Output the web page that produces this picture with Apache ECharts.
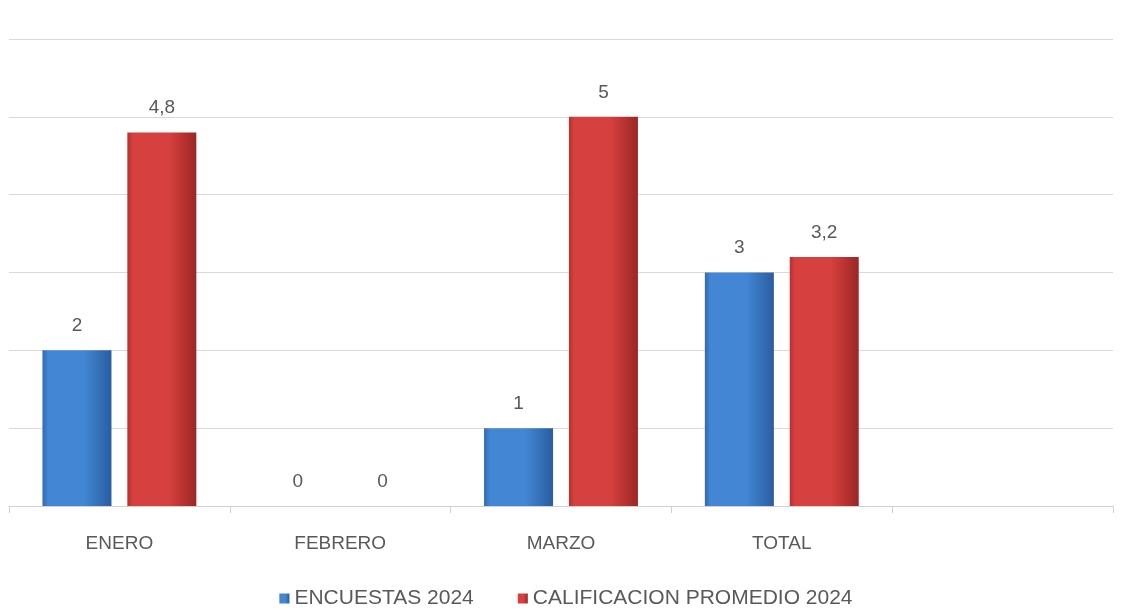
<!DOCTYPE html>
<html>
<head>
<meta charset="utf-8">
<script src="https://cdn.jsdelivr.net/npm/echarts@6/dist/echarts.min.js"></script>
<style>
html,body{margin:0;padding:0;background:#fff;}
#main{width:1132px;height:610px;}
</style>
</head>
<body>
<div id="main"></div>
<script>
const categories = ['ENERO', 'FEBRERO', 'MARZO', 'TOTAL', ''];
const encuestas = [2, 0, 1, 3, null];
const calificacion = [4.8, 0, 5, 3.2, null];
const seriesNames = ['ENCUESTAS 2024', 'CALIFICACION PROMEDIO 2024'];

const FONT = '"Liberation Sans", Arial, sans-serif';
const TXT = '#595959';

function grad(c0, c1, c2) {
  return new echarts.graphic.LinearGradient(0, 0, 1, 0, [
    {offset: 0, color: c0},
    {offset: 0.08, color: c1},
    {offset: 0.6, color: c1},
    {offset: 1, color: c2}
  ]);
}

const labelCfg = {
  show: true,
  position: 'top',
  distance: 15,
  color: TXT,
  fontFamily: FONT,
  fontSize: 19,
  formatter: p => String(p.value).replace('.', ',')
};

const chart = echarts.init(document.getElementById('main'), null, {renderer: 'canvas'});
chart.setOption({
  backgroundColor: '#ffffff',
  animation: false,
  grid: {left: 9, right: 19, top: 39, bottom: 104, containLabel: false},
  legend: {
    top: 583,
    left: 'center',
    itemWidth: 10,
    itemHeight: 10,
    itemGap: 44,
    icon: 'rect',
    textStyle: {color: TXT, fontFamily: FONT, fontSize: 21},
    data: seriesNames
  },
  xAxis: {
    type: 'category',
    data: categories,
    boundaryGap: true,
    axisLine: {show: true, lineStyle: {color: '#d0d0d0', width: 1}},
    axisTick: {show: true, length: 7, lineStyle: {color: '#d0d0d0'}},
    axisLabel: {color: TXT, fontFamily: FONT, fontSize: 19, margin: 28, interval: 0}
  },
  yAxis: {
    type: 'value',
    min: 0,
    max: 6,
    interval: 1,
    axisLabel: {show: false},
    axisLine: {show: false},
    axisTick: {show: false},
    splitLine: {lineStyle: {color: '#d9d9d9', width: 1}}
  },
  series: [
    {
      name: seriesNames[0],
      type: 'bar',
      data: encuestas,
      barWidth: 69,
      barGap: '23%',
      itemStyle: {
        color: grad('#3068b2', '#4286d4', '#2a5da0')
      },
      label: labelCfg
    },
    {
      name: seriesNames[1],
      type: 'bar',
      data: calificacion,
      barWidth: 69,
      barGap: '23%',
      itemStyle: {
        color: grad('#b8302f', '#d6403e', '#9b2725')
      },
      label: labelCfg
    }
  ]
});
</script>
</body>
</html>
